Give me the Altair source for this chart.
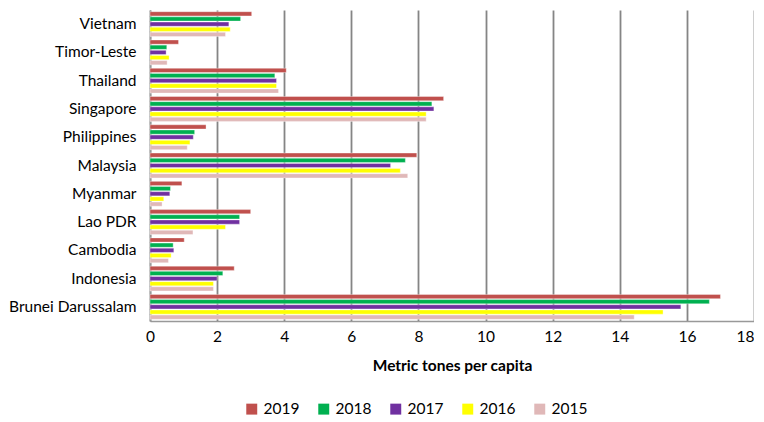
import altair as alt
import pandas as pd

countries = ["Vietnam", "Timor-Leste", "Thailand", "Singapore", "Philippines",
             "Malaysia", "Myanmar", "Lao PDR", "Cambodia", "Indonesia",
             "Brunei Darussalam"]
years = ["2019", "2018", "2017", "2016", "2015"]

v2019 = [3.03, 0.85, 4.06, 8.75, 1.67, 7.95, 0.95, 3.00, 1.02, 2.51, 17.0]
v2018 = [2.70, 0.50, 3.72, 8.40, 1.33, 7.61, 0.61, 2.67, 0.69, 2.17, 16.67]
v2017 = [2.35, 0.48, 3.77, 8.46, 1.29, 7.17, 0.59, 2.67, 0.71, 2.00, 15.82]
v2016 = [2.39, 0.57, 3.77, 8.23, 1.19, 7.46, 0.41, 2.25, 0.63, 1.89, 15.29]
v2015 = [2.25, 0.51, 3.83, 8.23, 1.11, 7.68, 0.36, 1.28, 0.55, 1.89, 14.43]

colors = ["#C0504D", "#00B050", "#7030A0", "#FFFF00", "#E0B8B8"]

series = [v2019, v2018, v2017, v2016, v2015]
rows = []
for y, vals in zip(years, series):
    for c, v in zip(countries, vals):
        rows.append({"country": c, "year": y, "value": v})
df = pd.DataFrame(rows)

FONT = "Lato"
FS = 15.5

chart = alt.Chart(df).mark_bar(stroke="white", strokeWidth=0.6, strokeOpacity=0.6).encode(
    x=alt.X("value:Q",
            scale=alt.Scale(domain=[0, 18], nice=False),
            axis=alt.Axis(values=list(range(0, 19, 2)), title="Metric tones per capita",
                          titleFont=FONT, titleFontSize=FS, titleFontWeight="bold",
                          titleColor="#000", titlePadding=14,
                          labelFont=FONT, labelFontSize=FS, labelColor="#000",
                          labelPadding=8,
                          labelAlign=alt.expr("datum.value == 18 ? 'right' : 'center'"),
                          grid=True, gridColor="#858585", gridWidth=1.8,
                          domainColor="#999999", domainWidth=1.5,
                          ticks=False)),
    y=alt.Y("country:N", sort=countries,
            scale=alt.Scale(paddingInner=0.12, paddingOuter=0.06),
            axis=alt.Axis(title=None, labelFont=FONT, labelFontSize=FS,
                          labelColor="#000", labelPadding=14, ticks=False,
                          domainColor="#999999", domainWidth=1.5, grid=False)),
    yOffset=alt.YOffset("year:N", sort=years, scale=alt.Scale(paddingInner=0.18)),
    color=alt.Color("year:N",
                    scale=alt.Scale(domain=years, range=colors),
                    legend=alt.Legend(title=None, orient="none", direction="horizontal",
                                      legendX=94, legendY=391,
                                      symbolType="square", symbolSize=120,
                                      symbolStrokeWidth=0,
                                      labelFont=FONT, labelFontSize=FS,
                                      labelColor="#000", columnPadding=16,
                                      symbolOpacity=1)),
).properties(width=604, height=311,
             padding={"left": 0, "top": 2, "right": 0, "bottom": 0}
).configure_view(stroke=None)

chart.save("out.html", embed_options={"renderer": "svg", "actions": False})
